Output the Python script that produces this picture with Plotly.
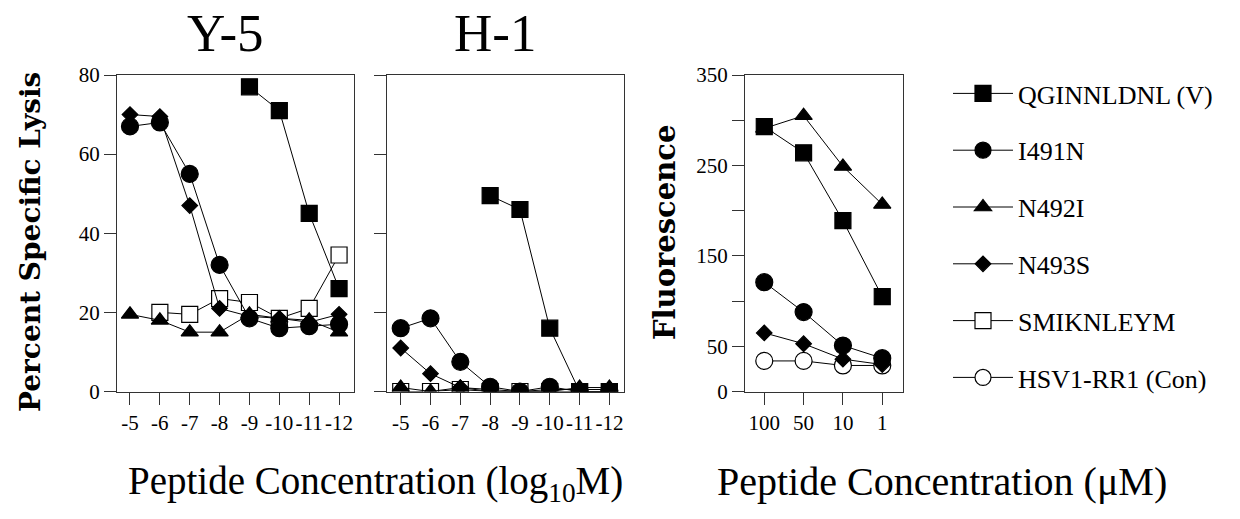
import plotly.graph_objects as go

# ---------------- data ----------------
log_conc = [-5, -6, -7, -8, -9, -10, -11, -12]
log_conc_labels = ["-5", "-6", "-7", "-8", "-9", "-10", "-11", "-12"]
um_conc = ["100", "50", "10", "1"]

series_names = ["QGINNLDNL (V)", "I491N", "N492I", "N493S", "SMIKNLEYM", "HSV1-RR1 (Con)"]

# Y-5 target cells (% specific lysis)
y5_qginnldnl = [None, None, None, None, 77, 71, 45, 26]
y5_i491n = [67, 68, 55, 32, 18.5, 16, 16.5, 17]
y5_n492i = [19.5, 18, 15, 15, 19.5, 18.5, 18, 15]
y5_n493s = [70, 69.5, 47, 21, 19, 18.5, 17.5, 19.5]
y5_smiknleym = [None, 20, 19.5, 23.5, 22.5, 18.5, 21, 34.5]

# H-1 target cells (% specific lysis)
h1_qginnldnl = [None, None, None, 49.5, 46, 16, 0, 0]
h1_i491n = [16, 18.5, 7.5, 1.2, 0, 1.2, 0, 0]
h1_n492i = [1, 0, 1, 0, 0, 0, 1, 1]
h1_n493s = [11, 4.5, 1, 0.5, 0, 0.5, 0.5, 0.5]
h1_smiknleym = [0, 0, 0.5, 0, 0, 0, 0, 0]

# Fluorescence vs peptide concentration (uM)
fl_qginnldnl = [293, 264, 189, 105]
fl_i491n = [121, 88, 51, 37]
fl_n492i = [291, 305, 249, 207]
fl_n493s = [65, 53, 36, 30]
fl_hsv = [34, 34, 29, 29]

lysis_ticks = [0, 20, 40, 60, 80]
fl_major_ticks = [0, 50, 150, 250, 350]
fl_minor_ticks = [100, 200, 300]

# ---------------- styles ----------------
OFF = 8  # page body margin
W, H = 1240 - OFF, 519 - OFF
SERIF = "Liberation Serif"
AX = "#333333"

styles = {
    "QGINNLDNL (V)": dict(symbol="square", size=16, color="black"),
    "I491N": dict(symbol="circle", size=17, color="black"),
    "N492I": dict(symbol="triangle-up", size=15, color="black"),
    "N493S": dict(symbol="diamond", size=12, color="black"),
    "SMIKNLEYM": dict(symbol="square", size=16, color="white"),
    "HSV1-RR1 (Con)": dict(symbol="circle", size=17, color="white"),
}

fig = go.Figure()
shown = set()


def add(name, x, y, xa, ya):
    st = styles[name]
    show = name not in shown
    shown.add(name)
    fig.add_trace(go.Scatter(
        x=x, y=y, mode="lines+markers", name=name,
        xaxis=xa, yaxis=ya,
        line=dict(color="black", width=1),
        marker=dict(symbol=st["symbol"], size=st["size"], color=st["color"],
                    line=dict(color="black", width=1.2)),
        legendgroup=name, showlegend=show,
        legendrank=series_names.index(name) + 1,
    ))


# Y-5 panel
add("SMIKNLEYM", log_conc, y5_smiknleym, "x", "y")
add("N492I", log_conc, y5_n492i, "x", "y")
add("N493S", log_conc, y5_n493s, "x", "y")
add("I491N", log_conc, y5_i491n, "x", "y")
add("QGINNLDNL (V)", log_conc, y5_qginnldnl, "x", "y")
# H-1 panel
add("SMIKNLEYM", log_conc, h1_smiknleym, "x2", "y2")
add("N492I", log_conc, h1_n492i, "x2", "y2")
add("N493S", log_conc, h1_n493s, "x2", "y2")
add("I491N", log_conc, h1_i491n, "x2", "y2")
add("QGINNLDNL (V)", log_conc, h1_qginnldnl, "x2", "y2")
# Fluorescence panel
add("HSV1-RR1 (Con)", um_conc, fl_hsv, "x3", "y3")
add("N493S", um_conc, fl_n493s, "x3", "y3")
add("I491N", um_conc, fl_i491n, "x3", "y3")
add("N492I", um_conc, fl_n492i, "x3", "y3")
add("QGINNLDNL (V)", um_conc, fl_qginnldnl, "x3", "y3")


def fx(px):
    return (px - OFF) / W


def fy(py):
    return 1 - (py - OFF) / H


def px_x(a, b):
    return [fx(a), fx(b)]


def px_y(top, bottom):
    return [fy(bottom), fy(top)]


common_axis = dict(
    showline=True, mirror=True, linecolor=AX, linewidth=1.3,
    ticks="outside", ticklen=12, tickcolor=AX, tickwidth=1.3,
    showgrid=False, zeroline=False, automargin=False,
    tickfont=dict(family=SERIF, size=21, color="black"),
)

fig.update_layout(
    width=W, height=H,
    margin=dict(l=0, r=0, t=0, b=0),
    paper_bgcolor="white", plot_bgcolor="white",
    xaxis=dict(common_axis, domain=px_x(117, 354), range=[-4.565, -12.5],
               tickvals=log_conc, ticktext=log_conc_labels, anchor="y"),
    yaxis=dict(common_axis, domain=px_y(75, 391.5), range=[0, 80],
               tickvals=lysis_ticks, anchor="x"),
    xaxis2=dict(common_axis, domain=px_x(386.7, 624), range=[-4.53, -12.49],
                tickvals=log_conc, ticktext=log_conc_labels, anchor="y2"),
    yaxis2=dict(common_axis, domain=px_y(75, 391.5), range=[0, 80],
                tickvals=lysis_ticks, showticklabels=False, anchor="x2"),
    xaxis3=dict(common_axis, domain=px_x(745, 902.7), type="category",
                range=[-0.49, 3.52], anchor="y3"),
    yaxis3=dict(common_axis, domain=px_y(75, 391.7), range=[0, 350],
                tickvals=fl_major_ticks, anchor="x3",
                minor=dict(tickvals=fl_minor_ticks, ticks="outside", ticklen=12,
                           tickcolor=AX, tickwidth=1.3, showgrid=False)),
    legend=dict(
        x=fx(948), y=fy(70), xanchor="left", yanchor="top",
        font=dict(family=SERIF, size=26, color="black"),
        traceorder="grouped", tracegroupgap=20,
        bgcolor="rgba(0,0,0,0)", itemwidth=60,
    ),
    font=dict(family=SERIF, color="black"),
    showlegend=True,
)

annotations = [
    dict(text="Y-5", x=fx(225), y=fy(33), font=dict(family=SERIF, size=53)),
    dict(text="H-1", x=fx(495), y=fy(33), font=dict(family=SERIF, size=53)),
    dict(text="<b>Percent Specific Lysis</b>", x=fx(30), y=fy(242), textangle=-90,
         font=dict(family="DejaVu Serif", size=28)),
    dict(text="<b>Fluorescence</b>", x=fx(665), y=fy(233), textangle=-90,
         font=dict(family="DejaVu Serif", size=29)),
    dict(text="Peptide Concentration (log<sub>10</sub>M)", x=fx(375), y=fy(483),
         font=dict(family=SERIF, size=39)),
    dict(text="Peptide Concentration (μM)", x=fx(942), y=fy(481),
         font=dict(family=SERIF, size=40)),
]
for a in annotations:
    a.update(xref="paper", yref="paper", showarrow=False, xanchor="center", yanchor="middle")
    a["font"]["color"] = "black"
fig.update_layout(annotations=annotations)

fig.write_html("out.html")
